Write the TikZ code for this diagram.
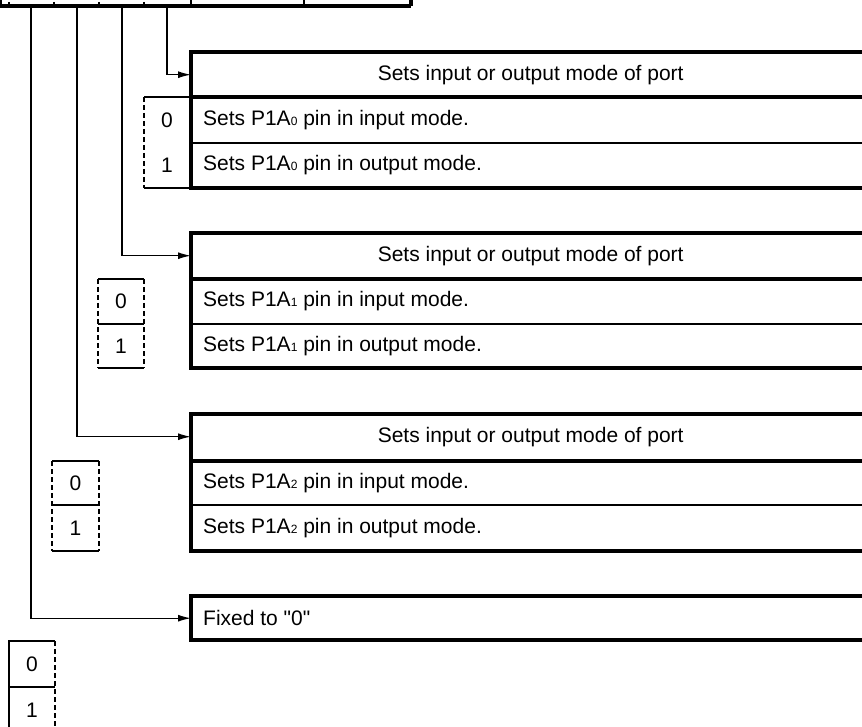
\documentclass[tikz,border=0pt]{standalone}
\usepackage{fontspec}
\setmainfont{Liberation Sans}
\newfontfamily\plainfont{Liberation Sans}
\usetikzlibrary{arrows.meta}
\newcommand{\subd}[1]{{\fontsize{12}{12}\selectfont #1}}
\tikzset{
  thickln/.style={line width=3.2pt},
  thinln/.style={line width=1.4pt},
  dashln/.style={line width=1.2pt, dash pattern=on 5pt off 3pt},
  conn/.style={line width=1.4pt, -{Latex[length=13pt,width=7pt]}},
  hdr/.style={anchor=north west, minimum width=679pt, minimum height=45pt, inner sep=0pt},
  rowtxt/.style={anchor=west, inner sep=0pt},
  digit/.style={inner sep=0pt},
  every node/.style={font=\fontsize{21}{25}\selectfont}
}
\begin{document}
\begin{tikzpicture}[x=1pt,y=-1pt]
\useasboundingbox (0,0) rectangle (862,727);
% register (cut off at top)
\draw[thickln] (0,6) -- (411,6);
\draw[thickln] (411,-5) -- (411,6);
\draw[thickln] (0.5,-5) -- (0.5,6);
\draw[thinln] (191,-5) -- (191,6);
\draw[thinln] (304,-5) -- (304,6);
\foreach \x in {9,54,99,144} \draw[thinln] (\x,2) -- (\x,6);
\coordinate (bit0) at (167,6);
\coordinate (bit1) at (122,6);
\coordinate (bit2) at (77,6);
\coordinate (bit3) at (31,6);

% ---------- Box 1 ----------
\node[hdr] (h1) at (191,52) {Sets input or output mode of port};
\draw[thickln] (875,52) -| (191,188) -- (875,188);
\draw[thickln] (191,97) -- (875,97);
\draw[thinln] (191,143) -- (875,143);
\node[rowtxt] (r10) at (203,120) {Sets P1A\subd{0} pin in input mode.};
\node[rowtxt] (r11) at (203,165.5) {Sets P1A\subd{0} pin in output mode.};
\draw[thinln] (191,97) -- (144,97);
\draw[dashln] (144,97) -- (144,188);
\draw[thinln] (144,188) -- (191,188);
\node[digit] (d10) at (167,120) {0};
\node[digit] (d11) at (167,165.5) {1};
\draw[conn] (bit0) |- (h1.west);

% ---------- Box 2 ----------
\node[hdr] (h2) at (191,233) {Sets input or output mode of port};
\draw[thickln] (875,233) -| (191,368) -- (875,368);
\draw[thickln] (191,279) -- (875,279);
\draw[thinln] (191,324) -- (875,324);
\node[rowtxt] (r20) at (203,301.5) {Sets P1A\subd{1} pin in input mode.};
\node[rowtxt] (r21) at (203,346) {Sets P1A\subd{1} pin in output mode.};
\draw[thinln] (98,279) -- (144,279);
\draw[thinln] (98,324) -- (144,324);
\draw[thinln] (98,368) -- (144,368);
\draw[dashln] (98,279) -- (98,368);
\draw[dashln] (144,279) -- (144,368);
\node[digit] (d20) at (121,301.5) {0};
\node[digit] (d21) at (121,346) {1};
\draw[conn] (bit1) |- (h2.west);

% ---------- Box 3 ----------
\node[hdr] (h3) at (191,414) {Sets input or output mode of port};
\draw[thickln] (875,414) -| (191,551) -- (875,551);
\draw[thickln] (191,461) -- (875,461);
\draw[thinln] (191,505) -- (875,505);
\node[rowtxt] (r30) at (203,483) {Sets P1A\subd{2} pin in input mode.};
\node[rowtxt] (r31) at (203,528) {Sets P1A\subd{2} pin in output mode.};
\draw[thinln] (52,461) -- (99,461);
\draw[thinln] (52,505) -- (99,505);
\draw[thinln] (52,551) -- (99,551);
\draw[dashln] (52,461) -- (52,551);
\draw[dashln] (99,461) -- (99,551);
\node[digit] (d30) at (75.5,483) {0};
\node[digit] (d31) at (75.5,528) {1};
\draw[conn] (bit2) |- (h3.west);

% ---------- Box 4 ----------
\node[hdr, minimum height=44pt] (h4) at (191,596) {};
\draw[thickln] (875,596) -| (191,640) -- (875,640);
\node[rowtxt] (r40) at (203,618) {Fixed to {\plainfont "0"}};
\draw[thinln] (55,641) -- (9,641) -- (9,735);
\draw[thinln] (9,687) -- (55,687);
\draw[dashln] (55,641) -- (55,735);
\node[digit] (d40) at (32,664) {0};
\node[digit] (d41) at (32,710) {1};
\draw[conn] (bit3) |- (h4.west);
\end{tikzpicture}
\end{document}
